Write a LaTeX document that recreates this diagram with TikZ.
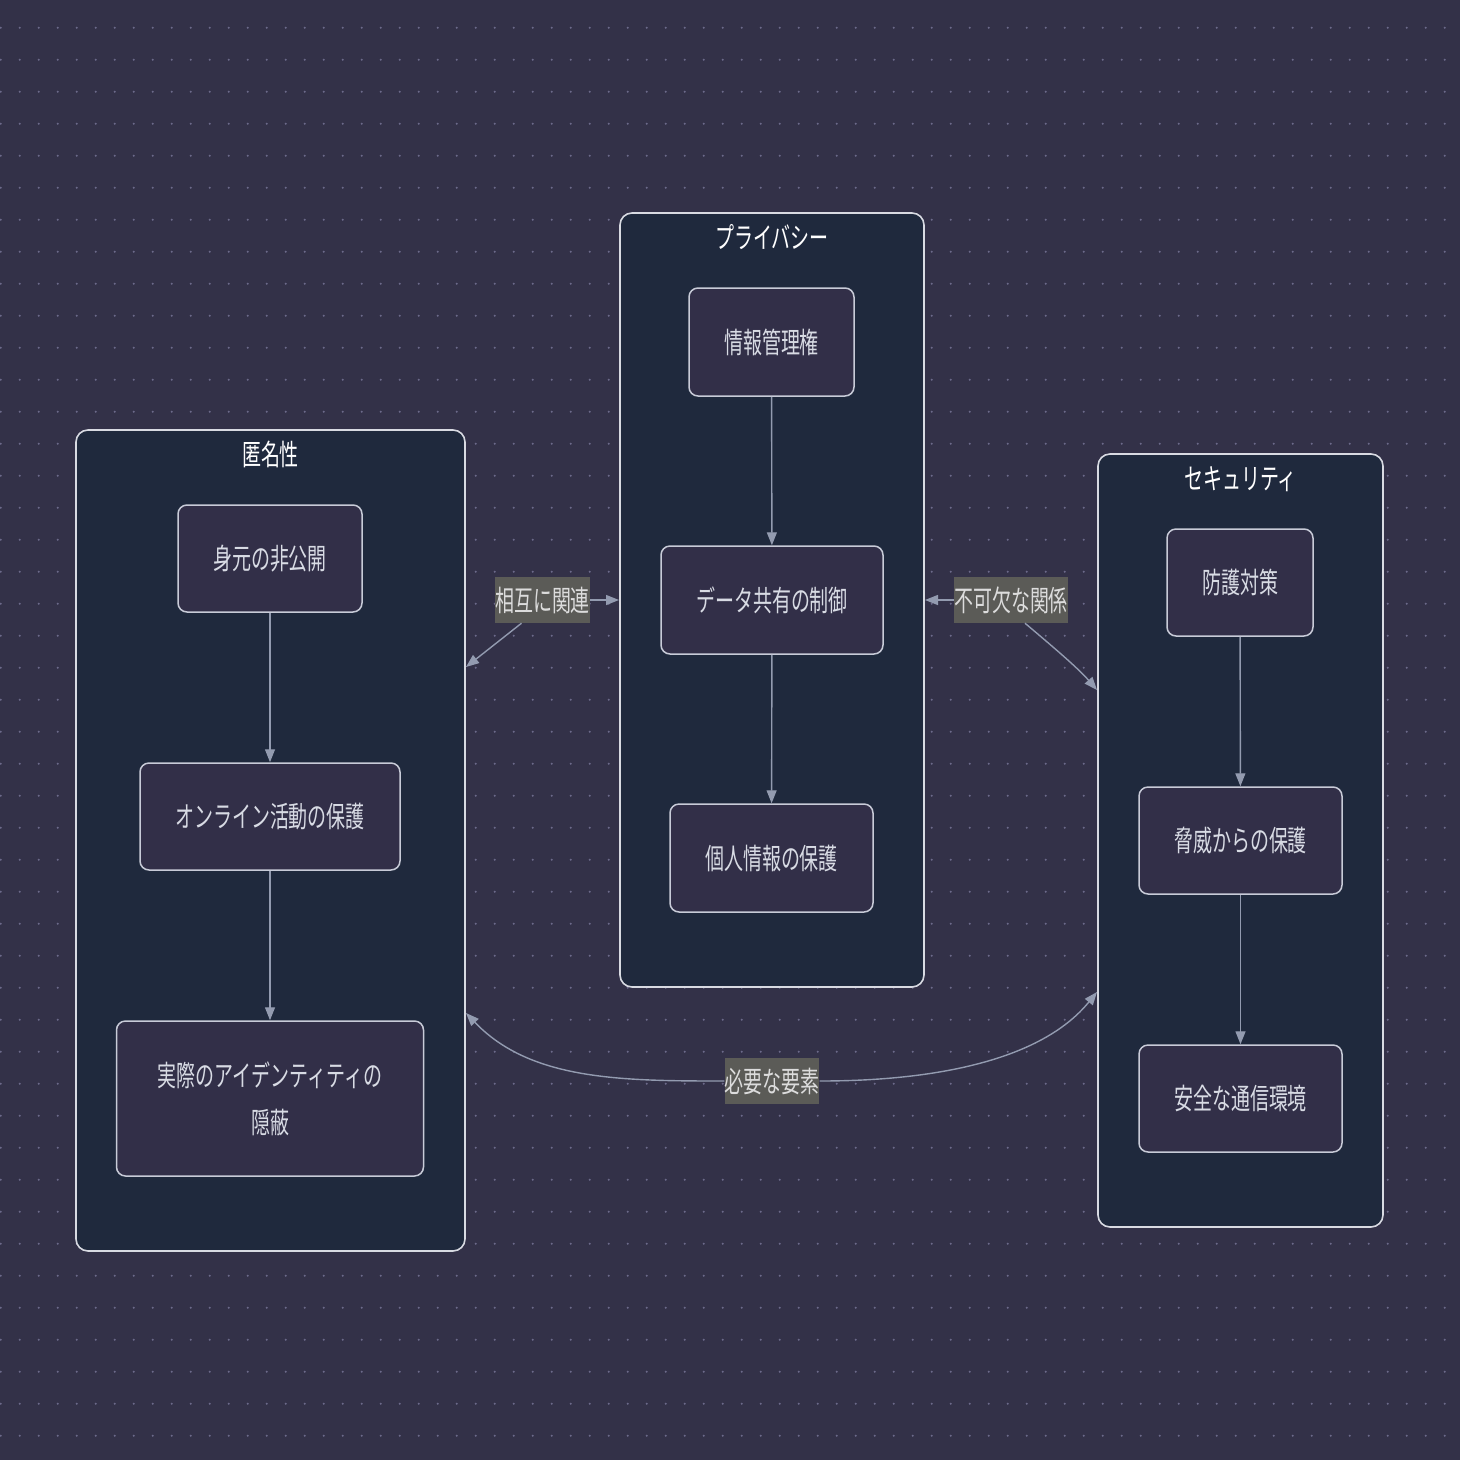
\documentclass[tikz,border=0pt]{standalone}
\usepackage{fontspec}
\newfontfamily\jp[FakeStretch=0.655]{Noto Sans CJK JP}
\usetikzlibrary{arrows.meta}
\definecolor{bgc}{HTML}{333148}
\definecolor{dotc}{HTML}{6C6A8A}
\definecolor{clfill}{HTML}{1F293D}
\definecolor{clline}{HTML}{D8DAE2}
\definecolor{ndfill}{HTML}{322F48}
\definecolor{ndline}{HTML}{C8CBD8}
\definecolor{ndtext}{HTML}{D8DBE4}
\definecolor{edgec}{HTML}{939BB0}
\definecolor{lblbg}{HTML}{5B5B57}
\definecolor{lbltext}{HTML}{DCDCDC}
\tikzset{
  jptext/.style={font={\jp\fontsize{29}{47}\selectfont}},
  cluster/.style={draw=clline, fill=clfill, line width=1.6pt, rounded corners=12pt, inner sep=0pt},
  cltitle/.style={jptext, text=white, inner sep=0pt},
  box/.style={draw=ndline, fill=ndfill, line width=1.5pt, rounded corners=9pt, jptext, text=ndtext, align=center, inner sep=0pt},
  edge/.style={draw=edgec, line width=1.4pt, -{Triangle[length=13pt,width=10pt]}},
  lbl/.style={fill=lblbg, text=lbltext, jptext, inner xsep=0pt, inner ysep=0pt, minimum height=46pt}
}
\begin{document}
\begin{tikzpicture}[x=1pt,y=-1pt]
\fill[bgc] (0,0) rectangle (1460,1460);
\useasboundingbox (0,0) rectangle (1460,1460);
\foreach \i in {0,...,76}{
  \foreach \j in {0,...,44}{
    \fill[dotc] ({0.7+19*\i},{27.7+32*\j}) circle (1.15);
  }
}
% clusters
\node[cluster, minimum width=389pt, minimum height=821pt] (anon) at (270.5,840.5) {};
\node[cluster, minimum width=304pt, minimum height=774pt] (priv) at (772,600) {};
\node[cluster, minimum width=285pt, minimum height=773pt] (sec) at (1240.5,840.5) {};
\node[cltitle] (tanon) at (270.5,454) {匿名性};
\node[cltitle] (tpriv) at (772,237) {プライバシー};
\node[cltitle] (tsec) at (1240.5,479) {セキュリティ};
% nodes anonymity
\node[box, minimum width=184pt, minimum height=107pt] (a1) at (270,558.5) {身元の非公開};
\node[box, minimum width=260pt, minimum height=107pt] (a2) at (270,816.5) {オンライン活動の保護};
\node[box, minimum width=307pt, minimum height=155pt] (a3) at (270,1098.5) {実際のアイデンティティの\\隠蔽};
% privacy
\node[box, minimum width=165pt, minimum height=108pt] (p1) at (771.5,342) {情報管理権};
\node[box, minimum width=222pt, minimum height=108pt] (p2) at (772,600) {データ共有の制御};
\node[box, minimum width=203pt, minimum height=108pt] (p3) at (771.5,858) {個人情報の保護};
% security
\node[box, minimum width=146pt, minimum height=107pt] (s1) at (1240,582.5) {防護対策};
\node[box, minimum width=203pt, minimum height=107pt] (s2) at (1240.5,840.5) {脅威からの保護};
\node[box, minimum width=203pt, minimum height=107pt] (s3) at (1240.5,1098.5) {安全な通信環境};
% inner edges
\draw[edge] (a1) -- (a2);
\draw[edge] (a2) -- (a3);
\draw[edge] (p1) -- (p2);
\draw[edge] (p2) -- (p3);
\draw[edge] (s1) -- (s2);
\draw[edge] (s2) -- (s3);
% cross edges
\coordinate (c1a) at (466,667);
\coordinate (c1b) at (619,600);
\coordinate (c2a) at (925,600);
\coordinate (c2b) at (1097,690);
\coordinate (c3a) at (466,1013);
\coordinate (c3b) at (1097,992);
\node[lbl] (l1) at (542.5,600) {相互に関連};
\node[lbl] (l2) at (1011,600) {不可欠な関係};
\node[lbl] (l3) at (772,1081) {必要な要素};
\draw[edge] (l1.east) -- (c1b);
\draw[edge] (l1.south) ++(-21,0) coordinate (l1s) (l1s) -- (c1a);
\draw[edge] (l2.west) -- (c2a);
\draw[edge] (l2.south) ++(14,0) coordinate (l2s) (l2s) .. controls (1052,646) and (1078,668) .. (c2b);
\draw[edge] (l3.west) .. controls (620,1081) and (530,1080) .. (c3a);
\draw[edge] (l3.east) .. controls (930,1081) and (1040,1062) .. (c3b);
\end{tikzpicture}
\end{document}
